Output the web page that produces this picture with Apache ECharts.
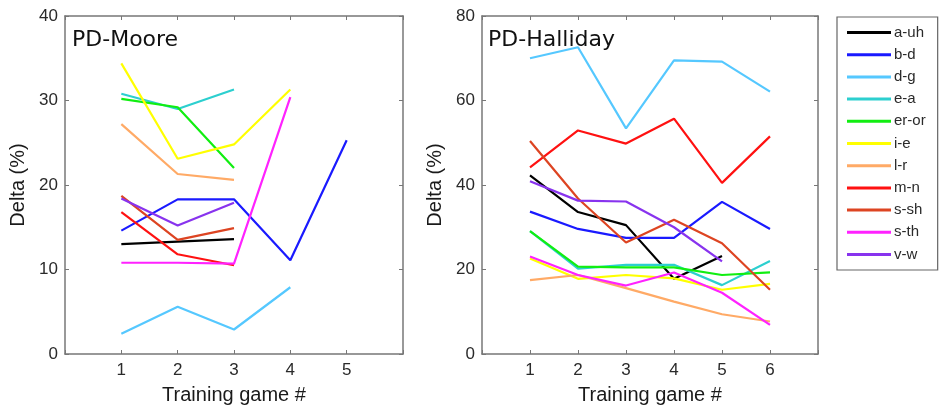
<!DOCTYPE html>
<html><head><meta charset="utf-8">
<script src="https://cdn.jsdelivr.net/npm/echarts@6/dist/echarts.min.js"></script>
<style>html,body{margin:0;padding:0;background:#fff}#c{width:942px;height:408px}</style>
</head><body><div id="c"></div>
<script>
const pairNames = ['a-uh','b-d','d-g','e-a','er-or','i-e','l-r','m-n','s-sh','s-th','v-w'];
const pairColors = ['#000000','#1a1aff','#55c8ff','#2ccfcf','#11ee11','#ffff00','#ffaa66','#ff1111','#dd4422','#ff22ff','#8833ee'];

const gamesMoore = [1,2,3,4,5];
const moore = {
  'a-uh':  [13.0, 13.3, 13.6, null, null],
  'b-d':   [14.6, 18.3, 18.3, 11.1, 25.3],
  'd-g':   [2.4, 5.6, 2.9, 7.9, null],
  'e-a':   [30.8, 29.0, 31.3, null, null],
  'er-or': [30.2, 29.2, 22.0, null, null],
  'i-e':   [34.4, 23.1, 24.8, 31.3, null],
  'l-r':   [27.2, 21.3, 20.6, null, null],
  'm-n':   [16.8, 11.8, 10.5, null, null],
  's-sh':  [18.7, 13.5, 14.9, null, null],
  's-th':  [10.8, 10.8, 10.7, 30.4, null],
  'v-w':   [18.4, 15.2, 17.9, null, null]
};

const gamesHalliday = [1,2,3,4,5,6];
const halliday = {
  'a-uh':  [42.3, 33.6, 30.5, 17.8, 23.2, null],
  'b-d':   [33.7, 29.6, 27.5, 27.5, 36.0, 29.6],
  'd-g':   [70.0, 72.6, 53.4, 69.5, 69.2, 62.1],
  'e-a':   [29.1, 20.2, 21.1, 21.1, 16.3, 22.0],
  'er-or': [29.1, 20.7, 20.5, 20.5, 18.7, 19.3],
  'i-e':   [22.6, 17.8, 18.7, 17.9, 15.2, 16.6],
  'l-r':   [17.5, 18.7, 15.6, 12.4, 9.4, 7.7],
  'm-n':   [44.2, 52.9, 49.8, 55.7, 40.5, 51.5],
  's-sh':  [50.4, 36.8, 26.4, 31.8, 26.2, 15.2],
  's-th':  [23.1, 18.7, 16.2, 19.3, 14.5, 6.9],
  'v-w':   [40.9, 36.3, 36.1, 30.0, 21.9, null]
};

const mooreYTicks = [0,10,20,30,40];
const hallidayYTicks = [0,20,40,60,80];

const axisCol = '#777';
const labelCol = '#2a2a2a';
const fontFam = '"Liberation Sans", Arial, sans-serif';

function xAxes(gi, max, shown) {
  return [
    { type:'value', gridIndex:gi, min:0, max:max, interval:1, position:'bottom',
      axisLine:{show:true, onZero:false, lineStyle:{color:axisCol, width:1.5}},
      axisTick:{show:true, inside:true, length:4, lineStyle:{color:axisCol}},
      axisLabel:{color:labelCol, fontSize:17, fontFamily:fontFam, margin:8,
        formatter: v => (v>=1 && v<=shown) ? String(v) : ''},
      splitLine:{show:false},
      name:'Training game #', nameLocation:'middle', nameGap:31,
      nameTextStyle:{color:'#1a1a1a', fontSize:20, fontFamily:fontFam}},
    { type:'value', gridIndex:gi, min:0, max:max, interval:1, position:'top',
      axisLine:{show:true, onZero:false, lineStyle:{color:axisCol, width:1.5}},
      axisTick:{show:true, inside:true, length:4, lineStyle:{color:axisCol}},
      axisLabel:{show:false}, splitLine:{show:false}}
  ];
}
function yAxes(gi, ticks) {
  const mx = ticks[ticks.length-1], iv = ticks[1]-ticks[0];
  return [
    { type:'value', gridIndex:gi, min:ticks[0], max:mx, interval:iv, position:'left',
      axisLine:{show:true, onZero:false, lineStyle:{color:axisCol, width:1.5}},
      axisTick:{show:true, inside:true, length:4, lineStyle:{color:axisCol}},
      axisLabel:{color:labelCol, fontSize:17, fontFamily:fontFam, margin:7},
      splitLine:{show:false},
      name:'Delta (%)', nameLocation:'middle', nameGap:37,
      nameTextStyle:{color:'#1a1a1a', fontSize:20, fontFamily:fontFam}},
    { type:'value', gridIndex:gi, min:ticks[0], max:mx, interval:iv, position:'right',
      axisLine:{show:true, onZero:false, lineStyle:{color:axisCol, width:1.5}},
      axisTick:{show:true, inside:true, length:4, lineStyle:{color:axisCol}},
      axisLabel:{show:false}, splitLine:{show:false}}
  ];
}

const series = [];
function addSeries(games, table, xi, yi) {
  pairNames.forEach((n, k) => {
    series.push({
      name:n, type:'line', xAxisIndex:xi, yAxisIndex:yi,
      data: games.map((g, i) => [g, table[n][i]]),
      showSymbol:false, symbol:'none', connectNulls:false,
      lineStyle:{width:2.2, color:pairColors[k]}, itemStyle:{color:pairColors[k]},
      emphasis:{disabled:true}, animation:false
    });
  });
}
addSeries(gamesMoore, moore, 0, 0);
addSeries(gamesHalliday, halliday, 2, 2);

const chart = echarts.init(document.getElementById('c'));
chart.setOption({
  animation:false,
  grid:[
    {left:65, top:16, width:338, height:338, outerBoundsMode:'none', containLabel:false},
    {left:482, top:16, width:336, height:338, outerBoundsMode:'none', containLabel:false}
  ],
  xAxis:[...xAxes(0, 6, 5), ...xAxes(1, 7, 6)],
  yAxis:[...yAxes(0, mooreYTicks), ...yAxes(1, hallidayYTicks)],
  title:[
    {text:'PD-Moore', left:67, top:24, textStyle:{fontSize:22, fontWeight:'normal', color:'#111', fontFamily:'"DejaVu Sans", Verdana, sans-serif'}},
    {text:'PD-Halliday', left:483, top:24, textStyle:{fontSize:22, fontWeight:'normal', color:'#111', fontFamily:'"DejaVu Sans", Verdana, sans-serif'}}
  ],
  legend:{
    data: pairNames, orient:'vertical', left:837, top:17,
    padding:[8,12,8,10], itemGap:7.2, itemWidth:44, itemHeight:3,
    icon:'rect', borderColor:'#666', borderWidth:1.2, selectedMode:false,
    textStyle:{color:'#2a2a2a', fontSize:15, fontFamily:fontFam, padding:[0,0,0,-2], height:15, lineHeight:15}
  },
  series: series
});
</script></body></html>
